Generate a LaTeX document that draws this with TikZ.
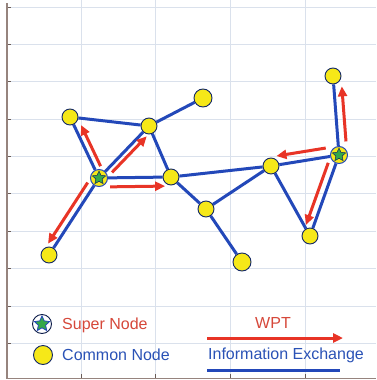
\documentclass[tikz,border=0pt]{standalone}
\usepackage{fontspec}
\setmainfont{Liberation Sans}
\usetikzlibrary{calc,arrows.meta,shapes.geometric}
\definecolor{edgeblue}{RGB}{35,72,185}
\definecolor{wptred}{RGB}{232,52,38}
\definecolor{nodeyellow}{RGB}{246,232,24}
\definecolor{stargreen}{RGB}{52,168,72}
\definecolor{gridc}{RGB}{218,225,236}
\definecolor{axisc}{RGB}{150,132,126}
\definecolor{txtred}{RGB}{214,72,58}
\definecolor{txtblue}{RGB}{42,82,182}
\pgfdeclarelayer{gridlayer}
\pgfdeclarelayer{edgelayer}
\pgfsetlayers{gridlayer,edgelayer,main}
\newcommand\wptarrow[5]{\draw[wpt] ($(#1)!#3!(#2)!#5!-90:(#2)$) -- ($(#2)!#4!(#1)!#5!90:(#1)$);}
\begin{document}
\begin{tikzpicture}[x=1pt,y=-1pt,
  common/.style={circle,draw=edgeblue!55!black,line width=0.9pt,fill=nodeyellow,minimum size=16pt,inner sep=0pt},
  bigcommon/.style={common,minimum size=18pt},
  super/.style={circle,draw=edgeblue,line width=1pt,fill=nodeyellow,minimum size=17pt,inner sep=0pt},
  starmark/.style={star,star points=5,star point ratio=2.1,fill=stargreen,draw=edgeblue!50!black,line width=0.5pt,minimum size=14pt,inner sep=0pt},
  link/.style={edgeblue,line width=3pt},
  wpt/.style={wptred,line width=3pt,-{Triangle[length=10pt,width=9pt]}},
  gridline/.style={gridc,line width=0.8pt},
  axisline/.style={axisc,line width=1.5pt},
  tickline/.style={axisc!70!black,line width=0.8pt},
  legtext/.style={font=\fontsize{16}{19}\selectfont,inner sep=0pt}]
\useasboundingbox (0,0) rectangle (376,380);
% grid and axes
\begin{pgfonlayer}{gridlayer}
\fill[white] (0,0) rectangle (376,380);
\foreach \x in {81,155,230,305} \draw[gridline] (\x,0) -- (\x,378);
\foreach \y in {7,44,81,119,156,193,231,268,306,343} {
  \draw[gridline] (7,\y) -- (376,\y);
  \draw[tickline] (7,\y) -- (11,\y);
}
\foreach \x in {81,155,230,305} \draw[tickline] (\x,378) -- (\x,374);
\draw[axisline] (7,3) -- (7,379);
\draw[axisline] (7,378.5) -- (376,378.5);
\end{pgfonlayer}
% nodes
\node[super] (s1) at (99,178) {};
\node[starmark] (s1x) at (s1) {};
\node[super] (s2) at (339,155) {};
\node[starmark] (s2x) at (s2) {};
\node[common] (a) at (70,117) {};
\node[common] (b) at (149,126) {};
\node[common] (c) at (171,177) {};
\node[bigcommon] (d) at (203,98) {};
\node[common] (e) at (333,76) {};
\node[common] (f) at (271,166) {};
\node[common] (g) at (49,255) {};
\node[common] (h) at (206,209) {};
\node[bigcommon] (i) at (242,262) {};
\node[common] (j) at (310,236) {};
% information links
\begin{pgfonlayer}{edgelayer}
\foreach \u/\v in {s1/a,s1/b,s1/c,s1/g,a/b,b/d,b/c,c/f,c/h,h/i,h/f,f/s2,f/j,s2/j,s2/e}
  \draw[link] (\u) -- (\v);
\end{pgfonlayer}
% WPT arrows
\wptarrow{s1}{a}{10pt}{12pt}{6.5pt}
\wptarrow{s1}{b}{13pt}{9pt}{5.5pt}
\wptarrow{s1}{c}{11pt}{6pt}{9pt}
\wptarrow{s1}{g}{10pt}{9pt}{7pt}
\wptarrow{s2}{e}{13pt}{11pt}{8pt}
\wptarrow{s2}{f}{12pt}{7pt}{9pt}
\wptarrow{s2}{j}{11pt}{9pt}{7.5pt}
% legend
\node[circle,draw=edgeblue!40!black,line width=0.9pt,fill=white,minimum size=19pt,inner sep=0pt] (ls) at (42,324) {};
\node[starmark,draw=edgeblue,line width=0.8pt,minimum size=16pt] (lsx) at (ls) {};
\node[common,minimum size=19pt] (lc) at (43,355) {};
\node[legtext,anchor=west,text=txtred] (lst) at (62,325) {Super Node};
\node[legtext,anchor=west,text=txtblue] (lct) at (62,355) {Common Node};
\node[legtext,text=txtred] (lw) at (273,323) {WPT};
\coordinate (lwa) at (207,338);
\coordinate (lwb) at (343,338);
\draw[wpt] (lwa) -- (lwb);
\node[legtext,anchor=west,text=txtblue] (lie) at (208,355) {Information Exchange};
\coordinate (lia) at (207,370);
\coordinate (lib) at (340,370);
\draw[link] (lia) -- (lib);
\end{tikzpicture}
\end{document}
